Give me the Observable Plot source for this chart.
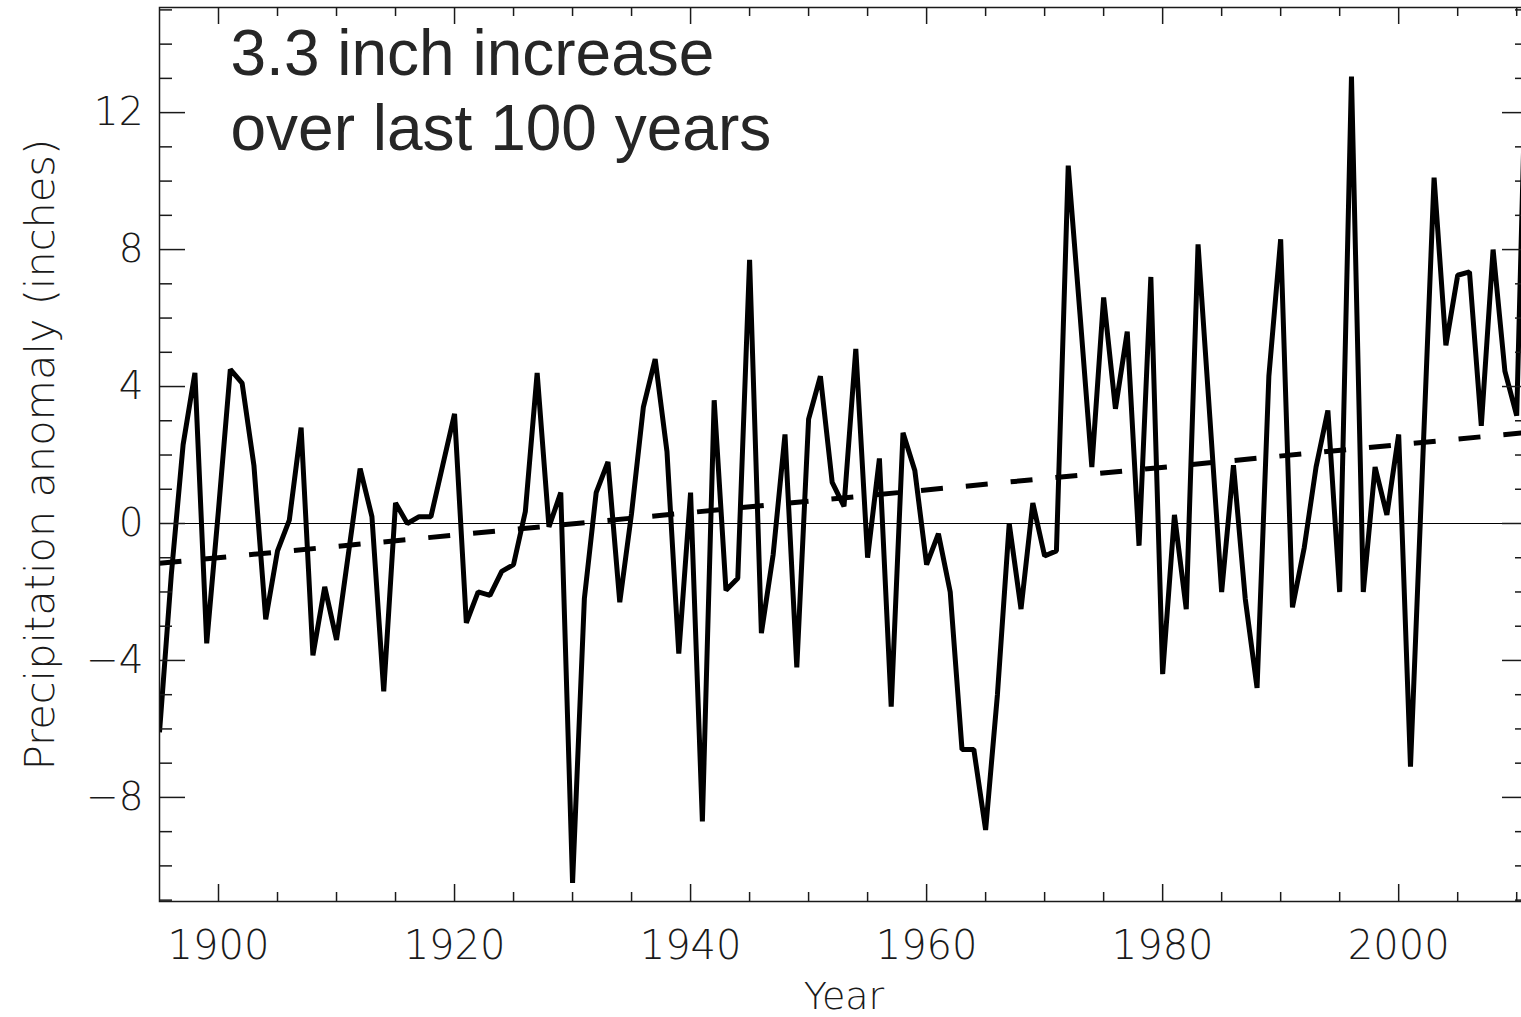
<!DOCTYPE html>
<html>
<head>
<meta charset="utf-8">
<script src="https://cdn.jsdelivr.net/npm/d3@7"></script>
<script src="https://cdn.jsdelivr.net/npm/@observablehq/plot@0.6"></script>
<style>
  html, body { margin: 0; padding: 0; background: #fff; overflow: hidden; }
  #chart svg { display: block; max-width: none; }
</style>
</head>
<body>
<div id="chart"></div>
<script>
// Annual precipitation anomaly (inches), one value per year starting in 1895
const firstYear = 1895;
const anomaly = [
  -6.1, -1.5, 2.3, 4.4, -3.5, 0.4, 4.5, 4.1, 1.7, -2.8,      // 1895-1904
  -0.8, 0.1, 2.8, -3.85, -1.85, -3.4, -0.9, 1.6, 0.2, -4.9,  // 1905-1914
  0.6, 0.0, 0.2, 0.2, 1.7, 3.2, -2.9, -2.0, -2.1, -1.4,      // 1915-1924
  -1.2, 0.35, 4.4, -0.1, 0.9, -10.5, -2.2, 0.9, 1.8, -2.3,   // 1925-1934
  0.3, 3.4, 4.8, 2.1, -3.8, 0.9, -8.7, 3.6, -1.95, -1.6,     // 1935-1944
  7.7, -3.2, -0.9, 2.6, -4.2, 3.05, 4.3, 1.2, 0.5, 5.1,      // 1945-1954
  -1.0, 1.9, -5.35, 2.65, 1.55, -1.2, -0.3, -2.0, -6.6, -6.6, // 1955-1964
  -8.95, -5.0, 0.0, -2.5, 0.6, -0.95, -0.8, 10.45, 6.1, 1.65, // 1965-1974
  6.6, 3.35, 5.6, -0.65, 7.2, -4.4, 0.25, -2.5, 8.15, 3.1,   // 1975-1984
  -2.0, 1.7, -2.2, -4.8, 4.3, 8.3, -2.45, -0.7, 1.65, 3.3,   // 1985-1994
  -2.0, 13.05, -2.0, 1.65, 0.25, 2.6, -7.1, 1.5, 10.1, 5.2,  // 1995-2004
  7.25, 7.35, 2.85, 8.0, 4.45, 3.15, 16.5                    // 2005-2011
];
const years = anomaly.map((_, i) => firstYear + i);

// Linear trend: stated rise per century, centred on the middle of the record
const increasePer100 = 3.3;
const trendCenterYear = 1953;
const trendCenterValue = 0.75;
const trendYears = [1895, 2011];

// Axis ticks
const yMajor = [-8, -4, 0, 4, 8, 12];
const yMinor = [-11, -10, -9, -7, -6, -5, -3, -2, -1, 1, 2, 3, 5, 6, 7, 9, 10, 11, 13, 14, 15];
const xMajor = [1900, 1920, 1940, 1960, 1980, 2000];
const xMinor = [1905, 1910, 1915, 1925, 1930, 1935, 1945, 1950, 1955, 1965, 1970, 1975, 1985, 1990, 1995, 2005, 2010];

const series = years.map((year, i) => ({year, value: anomaly[i]}));
const trend = trendYears.map(year => ({
  year,
  value: trendCenterValue + (year - trendCenterYear) * increasePer100 / 100
}));
const note = `${increasePer100} inch increase\nover last 100 years`;

// Layout
const W = 1529, H = 1017;
const mL = 159, mR = 1, mT = 7, mB = 116;
const frameW = W - mL - mR, frameH = H - mT - mB;
const ink = "#1a1a1a";

const chart = Plot.plot({
  width: W,
  height: H,
  marginLeft: mL,
  marginRight: mR,
  marginTop: mT,
  marginBottom: mB,
  style: {fontFamily: "'DejaVu Sans', sans-serif", fontWeight: 200, color: ink, background: "#fff"},
  x: {domain: [1895, 2011]},
  y: {domain: [-11.04, 15.07]},
  marks: [
    // zero reference
    Plot.ruleY([0], {stroke: "#000", strokeWidth: 1.2}),
    // trend
    Plot.line(trend, {x: "year", y: "value", stroke: "#000", strokeWidth: 5,
      strokeDasharray: "22,23", strokeLinecap: "butt", clip: true}),
    // annual series
    Plot.line(series, {x: "year", y: "value", stroke: "#000", strokeWidth: 5,
      strokeLinejoin: "miter", strokeLinecap: "butt", clip: true}),
    // inward tick marks on all four sides
    Plot.tickY(yMajor, {y: d => d, insetRight: frameW - 26, stroke: ink, strokeWidth: 1.5}),
    Plot.tickY(yMinor, {y: d => d, insetRight: frameW - 13, stroke: ink, strokeWidth: 1.5}),
    Plot.tickY(yMajor, {y: d => d, insetLeft: frameW - 26, stroke: ink, strokeWidth: 1.5}),
    Plot.tickY(yMinor, {y: d => d, insetLeft: frameW - 13, stroke: ink, strokeWidth: 1.5}),
    Plot.tickX(xMajor, {x: d => d, insetTop: frameH - 17, stroke: ink, strokeWidth: 1.5}),
    Plot.tickX(xMinor, {x: d => d, insetTop: frameH - 9, stroke: ink, strokeWidth: 1.5}),
    Plot.tickX(xMajor, {x: d => d, insetBottom: frameH - 17, stroke: ink, strokeWidth: 1.5}),
    Plot.tickX(xMinor, {x: d => d, insetBottom: frameH - 9, stroke: ink, strokeWidth: 1.5}),
    Plot.frame({stroke: ink, strokeWidth: 1.5}),
    // tick labels
    Plot.axisY({ticks: yMajor, tickSize: 0, tickPadding: 16, label: null, fontSize: 39}),
    Plot.axisX({ticks: xMajor, tickSize: 0, tickPadding: 29, label: null, fontSize: 40,
      tickFormat: d => String(d)}),
    // axis titles
    Plot.text(["Precipitation anomaly (inches)"], {text: d => d, frameAnchor: "left", dx: -119,
      rotate: -90, textAnchor: "middle", lineAnchor: "middle", fontSize: 41.5, fill: ink}),
    Plot.text(["Year"], {text: d => d, frameAnchor: "bottom", dy: 95,
      textAnchor: "middle", lineAnchor: "middle", fontSize: 38, fill: ink}),
    // annotation
    Plot.text([note], {text: d => d, frameAnchor: "top-left", dx: 71, dy: 14,
      textAnchor: "start", lineAnchor: "top", lineHeight: 75 / 64, fontSize: 64,
      fontFamily: "'Liberation Sans', Arial, sans-serif", fontWeight: 400, fill: "#262626"})
  ]
});

document.getElementById("chart").append(chart);
</script>
</body>
</html>
